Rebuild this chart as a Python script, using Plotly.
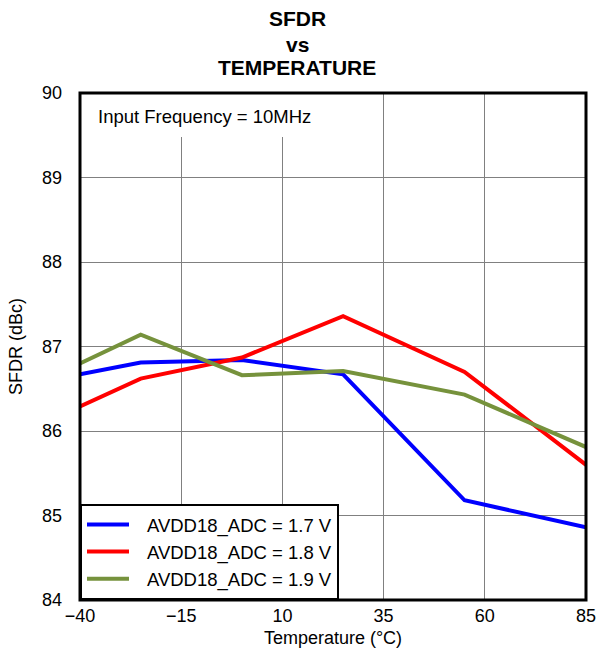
import plotly.graph_objects as go

temps = [-40, -25, 0, 25, 55, 85]
sfdr_17 = [86.67, 86.81, 86.84, 86.67, 85.18, 84.86]
sfdr_18 = [86.29, 86.62, 86.87, 87.36, 86.70, 85.60]
sfdr_19 = [86.80, 87.14, 86.66, 86.71, 86.43, 85.81]
names = ["AVDD18_ADC = 1.7 V", "AVDD18_ADC = 1.8 V", "AVDD18_ADC = 1.9 V"]
colors = ["#0000ff", "#ff0000", "#76923c"]
xticks = [-40, -15, 10, 35, 60, 85]
xticktext = ["\u221240", "\u221215", "10", "35", "60", "85"]
yticks = [84, 85, 86, 87, 88, 89, 90]
title_lines = ["SFDR", "vs", "TEMPERATURE"]

font = "Liberation Sans, Arial, sans-serif"
W, H = 597, 650
L, R, T, B = 80, 11, 93, 50
PH = H - T - B
PW = W - L - R


def py(pix):
    return (H - B - pix) / PH


def px(pix):
    return (pix - L) / PW


fig = go.Figure()
for ys, n, c in zip([sfdr_17, sfdr_18, sfdr_19], names, colors):
    fig.add_trace(go.Scatter(x=temps, y=ys, mode="lines", name="\u2002\u2009" + n,
                             line=dict(color=c, width=4)))

fig.update_layout(
    width=W, height=H,
    margin=dict(l=L, r=R, t=T, b=B, autoexpand=False),
    paper_bgcolor="white", plot_bgcolor="white",
    font=dict(family=font, size=18, color="black"),
    showlegend=True,
    legend=dict(x=0, y=0, xanchor="left", yanchor="bottom",
                bgcolor="white", bordercolor="black", borderwidth=2,
                itemwidth=42,
                font=dict(size=18.5, family=font), tracegroupgap=0),
    xaxis=dict(range=[-40, 85], tickvals=xticks, ticktext=xticktext,
               showgrid=True, gridcolor="#808080", gridwidth=1.3,
               zeroline=False, showline=False, ticks="", automargin=False,
               tickfont=dict(size=18), ticklabelstandoff=3,
               title=dict(text="Temperature (\u00b0C)", standoff=6,
                          font=dict(size=18))),
    yaxis=dict(range=[84, 90], tickvals=yticks,
               showgrid=True, gridcolor="#808080", gridwidth=1.3,
               zeroline=False, showline=False, ticks="", automargin=False,
               tickfont=dict(size=18), ticklabelstandoff=17,
               title=dict(text="SFDR (dBc)", standoff=14,
                          font=dict(size=18))),
)
# white box behind the annotation text (covers grid)
fig.add_shape(type="rect", xref="x", yref="paper", x0=-40, x1=22, y0=py(137), y1=1,
              fillcolor="white", line=dict(width=0), layer="above")
# plot frame
fig.add_shape(type="rect", xref="paper", yref="paper", x0=0, x1=1, y0=0, y1=1,
              line=dict(color="black", width=3), layer="above")
fig.add_annotation(text="Input Frequency = 10MHz", xref="paper", yref="paper",
                   x=px(96), y=py(116), xanchor="left", yanchor="middle",
                   showarrow=False, font=dict(size=18.5, family=font))
for txt, ypix in zip(title_lines, [19, 45, 68]):
    fig.add_annotation(text="<b>%s</b>" % txt, xref="paper", yref="paper",
                       x=px(297), y=py(ypix), xanchor="center", yanchor="middle",
                       showarrow=False, font=dict(size=21, family=font))

fig.write_html("out.html", config={"displayModeBar": False},
               post_script="document.body.style.margin='0';"
                           "document.body.style.overflow='hidden';")
